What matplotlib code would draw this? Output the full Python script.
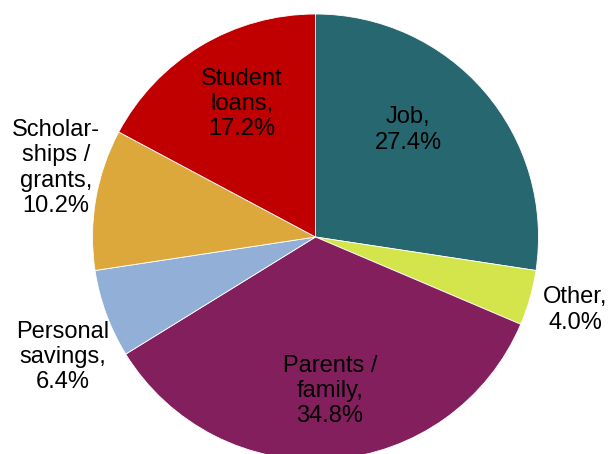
import matplotlib
matplotlib.use("Agg")
import matplotlib.pyplot as plt

plt.rcParams["font.family"] = ["Liberation Sans", "DejaVu Sans"]

# funding sources, clockwise from 12 o'clock
sources = ["Job", "Other", "Parents /\nfamily", "Personal\nsavings",
           "Scholar-\nships /\ngrants", "Student\nloans"]
shares = [27.4, 4.0, 34.8, 6.4, 10.2, 17.2]
colors = ["#276770", "#d3e54a", "#841f5d", "#92afd7", "#dca83b", "#c00000"]

# label centres in pie-radius units (pie centred at 0,0, radius 1)
label_xy = [(0.415, 0.480), (1.164, -0.327), (0.065, -0.691),
            (-1.132, -0.538), (-1.164, 0.309), (-0.330, 0.596)]

fig = plt.figure(figsize=(6.11, 4.54), dpi=100)
ax = fig.add_axes([0, 0, 1, 1])
ax.pie(shares, colors=colors, startangle=90, counterclock=False,
       radius=1.0, wedgeprops=dict(edgecolor="white", linewidth=0.6))
for name, val, (x, y) in zip(sources, shares, label_xy):
    ax.text(x, y, f"{name},\n{val:.1f}%", ha="center", va="center",
            fontsize=17, color="black", linespacing=1.2)

ax.set_xlim(-1.4148, 1.3251)
ax.set_ylim(-0.9731, 1.0628)
ax.set_aspect("auto")
ax.axis("off")
fig.savefig("out.png", dpi=100)
